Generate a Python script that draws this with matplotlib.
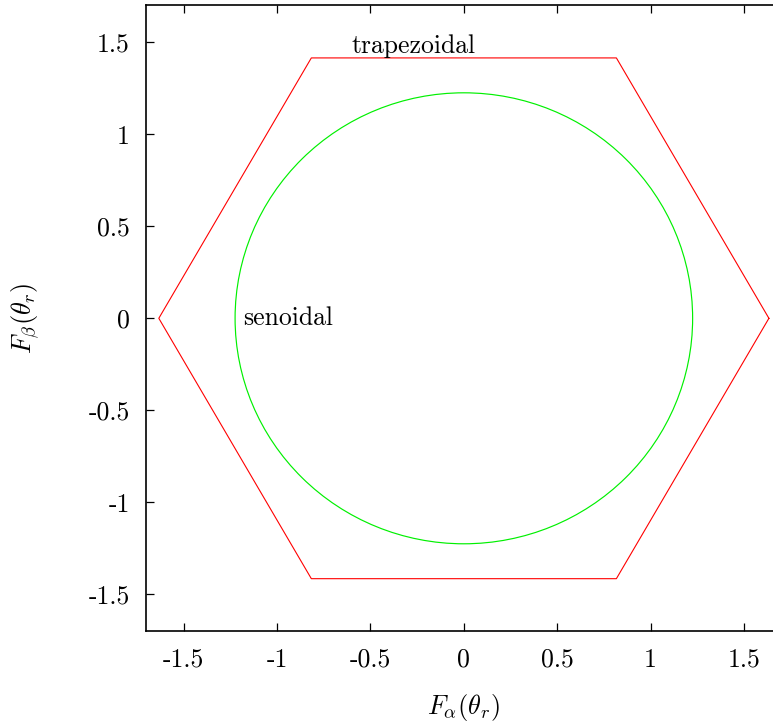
import matplotlib
matplotlib.use("Agg")
import matplotlib.pyplot as plt
from matplotlib.patches import Circle

plt.rcParams["font.family"] = ["cmr10", "DejaVu Serif"]
plt.rcParams["mathtext.fontset"] = "cm"
plt.rcParams["axes.unicode_minus"] = False
plt.rcParams["axes.formatter.use_mathtext"] = True

# Trapezoidal back-EMF trajectory: hexagon vertices in the alpha-beta plane
trap_alpha = [1.633, 0.8165, -0.8165, -1.633, -0.8165, 0.8165, 1.633]
trap_beta = [0.0, 1.4142, 1.4142, 0.0, -1.4142, -1.4142, 0.0]

# Sinusoidal back-EMF trajectory: circle radius
sine_radius = 1.2247

ticks = [-1.5, -1.0, -0.5, 0.0, 0.5, 1.0, 1.5]
tick_labels = ["-1.5", "-1", "-0.5", "0", "0.5", "1", "1.5"]

FS = 18.5

fig = plt.figure(figsize=(7.73, 7.22), dpi=100)
ax = fig.add_axes([0.18926, 0.12562, 0.82163, 0.86704])

ax.plot(trap_alpha, trap_beta, color="#ff0000", lw=0.8)
ax.add_patch(Circle((0, 0), sine_radius, fill=False, edgecolor="#00f000", lw=0.85))

ax.set_xlim(-1.7, 1.7)
ax.set_ylim(-1.7, 1.7)
ax.set_xticks(ticks)
ax.set_xticklabels(tick_labels)
ax.set_yticks(ticks)
ax.set_yticklabels(tick_labels)
ax.tick_params(direction="in", top=True, right=True, length=6, width=0.9,
               labelsize=FS, pad=12)
for s in ax.spines.values():
    s.set_linewidth(1.2)

ax.text(-0.604, 1.439, "trapezoidal", fontsize=FS, ha="left", va="baseline")
ax.text(-1.18, -0.036, "senoidal", fontsize=FS, ha="left", va="baseline")

ax.set_xlabel(r"$F_\alpha(\theta_r)$", fontsize=FS + 0.5, va="center")
ax.xaxis.set_label_coords(0.5, -0.1215)
ax.set_ylabel(r"$F_\beta(\theta_r)$", fontsize=FS + 0.5, va="center", ha="center")
ax.yaxis.set_label_coords(-0.191, 0.5)

fig.savefig("out.png", dpi=100)
